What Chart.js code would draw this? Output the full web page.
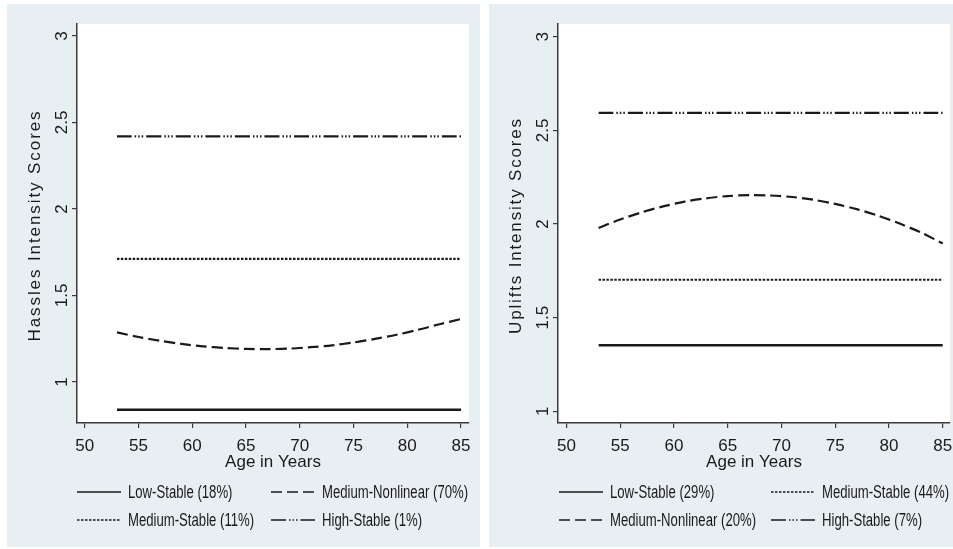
<!DOCTYPE html>
<html>
<head>
<meta charset="utf-8">
<script src="https://cdn.jsdelivr.net/npm/chart.js@4.4.1/dist/chart.umd.min.js"></script>
<style>
  body { margin: 0; background: #fff; width: 953px; height: 549px; overflow: hidden; position: relative; }
  .panel { position: absolute; top: 4px; height: 543px; background: #e8eff2; }
  #p1 { left: 7px; width: 473px; }
  #p2 { left: 489px; width: 464px; }
</style>
</head>
<body>
<div class="panel" id="p1"><canvas id="hassles"></canvas></div>
<div class="panel" id="p2"><canvas id="uplifts"></canvas></div>
<script>
// ages along the x axis, tick values
const xTicks = [50, 55, 60, 65, 70, 75, 80, 85];
const yTicks = [1, 1.5, 2, 2.5, 3];
const yTickLabels = ['1', '1.5', '2', '2.5', '3'];
const stableAges = [53, 85];
const curveAges = [53, 55, 57, 59, 61, 63, 65, 67, 69, 71, 73, 75, 77, 79, 81, 83, 85];

// Hassles panel
const hasslesLabels = ['Low-Stable (18%)', 'Medium-Nonlinear (70%)', 'Medium-Stable (11%)', 'High-Stable (1%)'];
const hasslesLow = [0.84, 0.84];
const hasslesMedNonlinear = [1.287, 1.260, 1.238, 1.220, 1.206, 1.197, 1.191, 1.190, 1.193, 1.201, 1.212, 1.228, 1.249, 1.273, 1.302, 1.334, 1.364];
const hasslesMedStable = [1.711, 1.711];
const hasslesHigh = [2.42, 2.42];

// Uplifts panel
const upliftsLabels = ['Low-Stable (29%)', 'Medium-Stable (44%)', 'Medium-Nonlinear (20%)', 'High-Stable (7%)'];
const upliftsLow = [1.352, 1.352];
const upliftsMedStable = [1.702, 1.702];
const upliftsMedNonlinear = [1.979, 2.024, 2.062, 2.094, 2.119, 2.137, 2.149, 2.154, 2.152, 2.144, 2.129, 2.107, 2.079, 2.044, 2.002, 1.954, 1.896];
const upliftsHigh = [2.593, 2.593];

const FONT = '"Liberation Sans", Arial, sans-serif';
const SIZE = 17;
const INK = '#1a1a1a';
const AXIS = '#3a3a3a';
const NARROW = 0.73; // the original uses a condensed face

// line styles for each trajectory group
const styles = {
    low: { borderDash: [], width: 2.5 },
    nonlinear: { borderDash: [11, 5], width: 2.2 },
    stable: { borderDash: [2.5, 1.5], width: 2.2 },
    high: { borderDash: [15, 3, 1.5, 2, 1.5, 2, 1.5, 3], width: 2.2 }
};

function series(label, xs, ys, style) {
    return {
        label: label,
        data: xs.map((x, i) => ({ x: x, y: ys[i] })),
        borderColor: INK,
        borderWidth: styles[style].width,
        borderDash: styles[style].borderDash,
        pointRadius: 0,
        tension: 0.3,
        fill: false
    };
}

// white plot region inside the tinted panel
const plotBackground = {
    id: 'plotBackground',
    beforeDraw(chart) {
        const a = chart.chartArea;
        chart.ctx.save();
        chart.ctx.fillStyle = '#ffffff';
        chart.ctx.fillRect(a.left, a.top, a.right - a.left, a.bottom - a.top);
        chart.ctx.restore();
    }
};

// y title with the wide letter spacing of the original
const spacedYTitle = {
    id: 'spacedYTitle',
    afterDraw(chart, args, opts) {
        const ctx = chart.ctx, area = chart.chartArea;
        ctx.save();
        ctx.font = SIZE + 'px ' + FONT;
        ctx.fillStyle = INK;
        const plain = ctx.measureText(opts.text).width;
        ctx.letterSpacing = ((opts.length - plain) / (opts.text.length - 1)).toFixed(2) + 'px';
        ctx.translate(opts.x, (area.top + area.bottom) / 2 + opts.shift);
        ctx.rotate(-Math.PI / 2);
        ctx.textAlign = 'center';
        ctx.textBaseline = 'middle';
        ctx.fillText(opts.text, 0, 0);
        ctx.restore();
    }
};

// two-column legend like the Stata one
const gridLegend = {
    id: 'gridLegend',
    afterDraw(chart, args, opts) {
        const ctx = chart.ctx;
        ctx.save();
        ctx.font = '18px ' + FONT;
        ctx.fillStyle = INK;
        ctx.textBaseline = 'middle';
        chart.data.datasets.forEach((ds, i) => {
            const x = opts.cols[i % 2], y = opts.rows[Math.floor(i / 2)];
            ctx.strokeStyle = ds.borderColor;
            ctx.lineWidth = 1.6;
            ctx.setLineDash(ds.borderDash);
            ctx.beginPath();
            ctx.moveTo(x, y);
            ctx.lineTo(x + opts.sample, y);
            ctx.stroke();
            ctx.setLineDash([]);
            const w = ctx.measureText(ds.label).width * NARROW;
            ctx.fillText(ds.label, x + opts.sample + 7, y + 1, w);
        });
        ctx.restore();
    }
};

function makeConfig(datasets, p) {
    return {
        type: 'line',
        data: { datasets: datasets },
        options: {
            responsive: true,
            maintainAspectRatio: false,
            animation: false,
            layout: { padding: { left: 0, top: 20, right: p.right, bottom: 74 } },
            plugins: {
                legend: { display: false },
                tooltip: { enabled: false },
                spacedYTitle: { text: p.title, x: p.titleX, length: p.titleLen, shift: 2 },
                gridLegend: { cols: p.cols, rows: [488, 516], sample: 44 }
            },
            scales: {
                x: {
                    type: 'linear',
                    min: p.xmin, max: p.xmax,
                    afterBuildTicks: s => { s.ticks = xTicks.map(v => ({ value: v })); },
                    afterFit: s => { s.height = 50; s.paddingLeft = 0; s.paddingRight = 0; },
                    grid: { drawOnChartArea: false, drawTicks: true, tickLength: 5, color: AXIS, lineWidth: 1.2 },
                    border: { color: AXIS, width: 1.5 },
                    ticks: { font: { family: FONT, size: SIZE }, color: INK, padding: 8, maxRotation: 0 },
                    title: { display: true, text: 'Age in Years', font: { family: FONT, size: SIZE }, color: INK, padding: { top: 0, bottom: 0 } }
                },
                y: {
                    type: 'linear',
                    min: p.ymin, max: p.ymax,
                    afterBuildTicks: s => { s.ticks = yTicks.map(v => ({ value: v })); },
                    afterFit: s => { s.width = p.yWidth; s.paddingTop = 0; s.paddingBottom = 0; },
                    grid: { drawOnChartArea: false, drawTicks: true, tickLength: 5, color: AXIS, lineWidth: 1.2 },
                    border: { color: AXIS, width: 1.5 },
                    ticks: {
                        font: { family: FONT, size: SIZE }, color: INK, padding: -2,
                        minRotation: 90, maxRotation: 90, crossAlign: 'center',
                        callback: v => yTickLabels[yTicks.indexOf(v)]
                    }
                }
            }
        },
        plugins: [plotBackground, spacedYTitle, gridLegend]
    };
}

new Chart(document.getElementById('hassles'), makeConfig([
    series(hasslesLabels[0], stableAges, hasslesLow, 'low'),
    series(hasslesLabels[1], curveAges, hasslesMedNonlinear, 'nonlinear'),
    series(hasslesLabels[2], stableAges, hasslesMedStable, 'stable'),
    series(hasslesLabels[3], stableAges, hasslesHigh, 'high')
], {
    title: 'Hassles Intensity Scores', titleX: 28, titleLen: 230,
    xmin: 49.28, xmax: 85.74, ymin: 0.763, ymax: 3.069,
    yWidth: 70, right: 11, cols: [70, 264]
}));

new Chart(document.getElementById('uplifts'), makeConfig([
    series(upliftsLabels[0], stableAges, upliftsLow, 'low'),
    series(upliftsLabels[1], stableAges, upliftsMedStable, 'stable'),
    series(upliftsLabels[2], curveAges, upliftsMedNonlinear, 'nonlinear'),
    series(upliftsLabels[3], stableAges, upliftsHigh, 'high')
], {
    title: 'Uplifts Intensity Scores', titleX: 27, titleLen: 215,
    xmin: 49.22, xmax: 85.68, ymin: 0.937, ymax: 3.068,
    yWidth: 69, right: 3, cols: [70, 282]
}));
</script>
</body>
</html>
